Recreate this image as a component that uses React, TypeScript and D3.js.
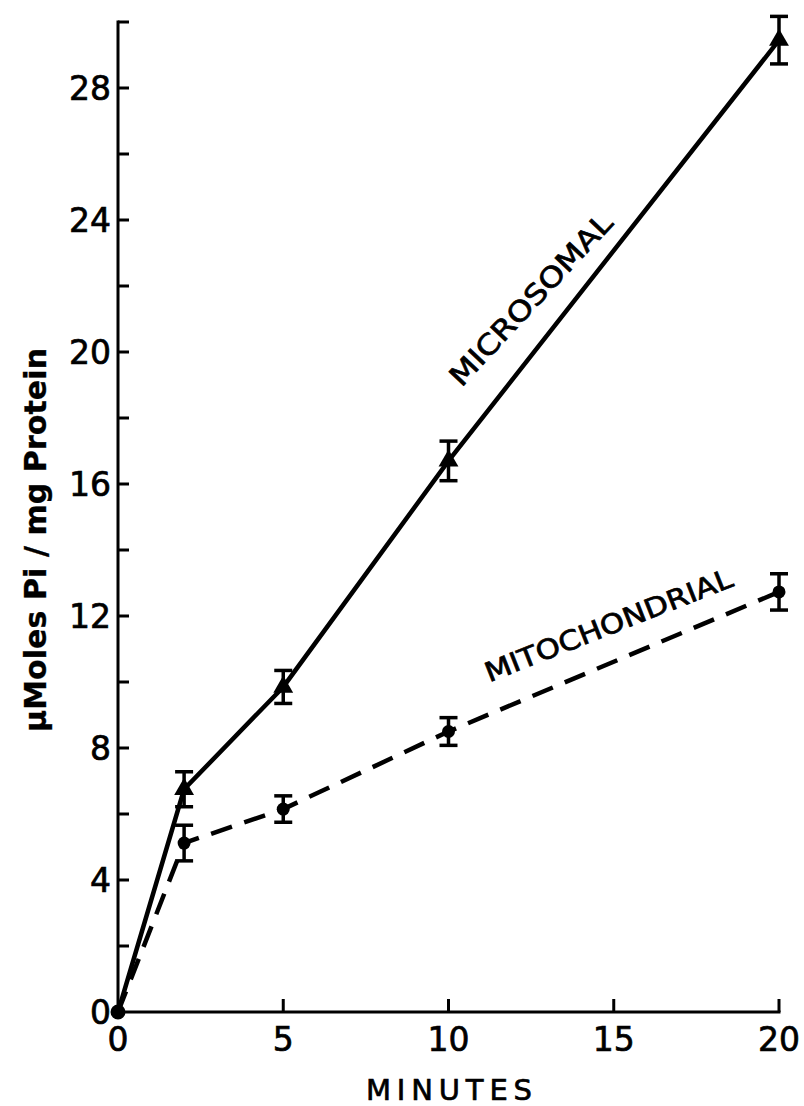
import React, { useEffect, useRef } from "react";
import * as d3 from "d3";

// Time points (minutes)
const minutes = [0, 2, 5, 10, 20];
// Microsomal series
const microsomal = [0, 6.75, 9.85, 16.7, 29.45];
const microsomalErr = [0, 0.53, 0.5, 0.6, 0.72];
// Mitochondrial series
const mitochondrial = [0, 5.12, 6.15, 8.5, 12.73];
const mitochondrialErr = [0, 0.54, 0.4, 0.42, 0.55];

const xTicks = [0, 5, 10, 15, 20];
const yTicks = [0, 4, 8, 12, 16, 20, 24, 28];
const yMinorTicks = [2, 6, 10, 14, 18, 22, 26, 30];

const FONT = "'DejaVu Sans', 'Liberation Sans', Arial, sans-serif";

function App() {
  const svgRef = useRef(null);

  useEffect(() => {
    const svg = d3.select(svgRef.current);
    svg.selectAll("*").remove();

    const x = d3.scaleLinear().domain([0, 20]).range([118, 779]);
    const y = d3.scaleLinear().domain([0, 30]).range([1012, 22]);

    // Axes
    const axes = svg.append("g").attr("stroke", "#000").attr("stroke-width", 3);
    axes
      .append("line")
      .attr("x1", x(0))
      .attr("x2", x(0))
      .attr("y1", y(30))
      .attr("y2", y(0))
      .attr("stroke-linecap", "square");
    axes
      .append("line")
      .attr("x1", x(0))
      .attr("x2", x(20))
      .attr("y1", y(0))
      .attr("y2", y(0))
      .attr("stroke-linecap", "square");

    // y ticks (inward)
    axes
      .selectAll("line.ytick")
      .data(yTicks.concat(yMinorTicks).filter((d) => d > 0))
      .enter()
      .append("line")
      .attr("class", "ytick")
      .attr("x1", x(0))
      .attr("x2", x(0) + 11)
      .attr("y1", (d) => y(d))
      .attr("y2", (d) => y(d));

    // x ticks (upward)
    axes
      .selectAll("line.xtick")
      .data(xTicks.filter((d) => d > 0))
      .enter()
      .append("line")
      .attr("class", "xtick")
      .attr("x1", (d) => x(d))
      .attr("x2", (d) => x(d))
      .attr("y1", y(0))
      .attr("y2", y(0) - 13);

    const label = (sel: any, size: number) =>
      sel
        .attr("font-family", FONT)
        .attr("font-size", size)
        .attr("fill", "#000")
        .attr("stroke", "#000")
        .attr("stroke-width", 0.7);

    // tick labels
    svg
      .selectAll("text.ylab")
      .data(yTicks)
      .enter()
      .append("text")
      .attr("class", "ylab")
      .attr("x", x(0) - 7)
      .attr("y", (d) => y(d))
      .attr("dy", "0.36em")
      .attr("text-anchor", "end")
      .call(label, 33)
      .text((d) => d);

    svg
      .selectAll("text.xlab")
      .data(xTicks)
      .enter()
      .append("text")
      .attr("class", "xlab")
      .attr("x", (d) => x(d))
      .attr("y", y(0) + 39)
      .attr("text-anchor", "middle")
      .call(label, 33)
      .text((d) => d);

    // axis titles
    svg
      .append("text")
      .attr("x", 449)
      .attr("y", 1100)
      .attr("text-anchor", "middle")
      .call(label, 29)
      .attr("textLength", 166)
      .attr("lengthAdjust", "spacing")
      .text("MINUTES");

    svg
      .append("text")
      .attr("transform", "translate(46,540) rotate(-90)")
      .attr("text-anchor", "middle")
      .call(label, 30)
      .attr("font-weight", "bold")
      .attr("stroke-width", 0.3)
      .attr("textLength", 384)
      .attr("lengthAdjust", "spacing")
      .text("\u00b5Moles  Pi / mg  Protein");

    // Lines
    const line = d3
      .line<number>()
      .x((d, i) => x(minutes[i]))
      .y((d) => y(d));

    svg
      .append("path")
      .attr("d", line(microsomal))
      .attr("fill", "none")
      .attr("stroke", "#000")
      .attr("stroke-width", 4.5);

    svg
      .append("path")
      .attr("d", line(mitochondrial))
      .attr("fill", "none")
      .attr("stroke", "#000")
      .attr("stroke-width", 4.5)
      .attr("stroke-dasharray", "22,13");

    // Error bars
    const drawErr = (vals: number[], errs: number[]) => {
      const g = svg.append("g").attr("stroke", "#000").attr("stroke-width", 3.5);
      minutes.forEach((m, i) => {
        if (errs[i] <= 0) return;
        const cx = x(m);
        const top = y(vals[i] + errs[i]);
        const bot = y(vals[i] - errs[i]);
        g.append("line").attr("x1", cx).attr("x2", cx).attr("y1", top).attr("y2", bot);
        g.append("line").attr("x1", cx - 9).attr("x2", cx + 9).attr("y1", top).attr("y2", top);
        g.append("line").attr("x1", cx - 9).attr("x2", cx + 9).attr("y1", bot).attr("y2", bot);
      });
    };
    drawErr(microsomal, microsomalErr);
    drawErr(mitochondrial, mitochondrialErr);

    // Markers
    const tri = d3.symbol().type(d3.symbolTriangle).size(170);
    svg
      .selectAll("path.tri")
      .data(microsomal.slice(1))
      .enter()
      .append("path")
      .attr("class", "tri")
      .attr("d", tri as any)
      .attr("transform", (d, i) => `translate(${x(minutes[i + 1])},${y(d)})`)
      .attr("fill", "#000");

    svg
      .selectAll("circle.dot")
      .data(mitochondrial.slice(1))
      .enter()
      .append("circle")
      .attr("class", "dot")
      .attr("cx", (d, i) => x(minutes[i + 1]))
      .attr("cy", (d) => y(d))
      .attr("r", 6.5)
      .attr("fill", "#000");

    // origin point
    svg
      .append("circle")
      .attr("cx", x(0))
      .attr("cy", y(0))
      .attr("r", 7.5)
      .attr("fill", "#000");

    // Series labels
    svg
      .append("text")
      .attr("transform", "translate(538,306) rotate(-47)")
      .attr("text-anchor", "middle")
      .call(label, 28)
      .attr("textLength", 224)
      .attr("lengthAdjust", "spacingAndGlyphs")
      .text("MICROSOMAL");

    svg
      .append("text")
      .attr("transform", "translate(612,634) rotate(-21.5)")
      .attr("text-anchor", "middle")
      .call(label, 27)
      .attr("textLength", 264)
      .attr("lengthAdjust", "spacingAndGlyphs")
      .text("MITOCHONDRIAL");
  }, []);

  return (
    <svg
      ref={svgRef}
      width={804}
      height={1106}
      style={{ position: "absolute", left: 0, top: 0, background: "#fff" }}
    />
  );
}

export default App;
